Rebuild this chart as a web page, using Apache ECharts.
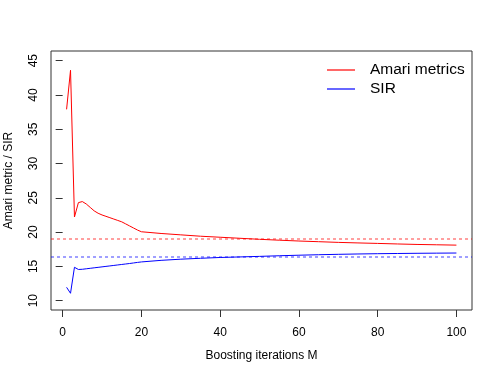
<!DOCTYPE html>
<html>
<head>
<meta charset="utf-8">
<script src="https://cdn.jsdelivr.net/npm/echarts@6/dist/echarts.min.js"></script>
<style>
  html, body { margin: 0; padding: 0; background: #fff; }
  #chart { width: 498px; height: 374px; }
</style>
</head>
<body>
<div id="chart"></div>
<script>
// boosting iterations (x) and metric values
const iterations = [1, 2, 3, 4, 5, 6, 7, 8, 9, 10, 11, 12, 13, 14, 15, 16, 17, 18, 19, 20,
  25, 30, 35, 40, 45, 50, 55, 60, 65, 70, 75, 80, 85, 90, 95, 100]
const amari = [37.9, 43.6, 22.2, 24.3, 24.45, 24.1, 23.6, 23.1, 22.75, 22.5, 22.3, 22.1, 21.9, 21.7, 21.5, 21.2, 20.9, 20.6, 20.3, 20.05,
  19.8, 19.6, 19.4, 19.25, 19.1, 18.95, 18.82, 18.7, 18.6, 18.5, 18.42, 18.35, 18.27, 18.2, 18.15, 18.1]
const sir = [11.95, 11.08, 14.87, 14.55, 14.58, 14.65, 14.72, 14.79, 14.86, 14.93, 15.0, 15.07, 15.14, 15.21, 15.28, 15.35, 15.42, 15.5, 15.58, 15.65,
  15.88, 16.05, 16.18, 16.3, 16.38, 16.46, 16.55, 16.63, 16.7, 16.76, 16.81, 16.85, 16.88, 16.91, 16.93, 16.95]
// reference levels (dotted horizontal lines)
const amariRef = 19.0
const sirRef = 16.42
const xTicks = [0, 20, 40, 60, 80, 100]
const yTicks = [10, 15, 20, 25, 30, 35, 40, 45]

const font = 'Liberation Sans, Arial, Helvetica, sans-serif'
const pair = (xs, ys) => xs.map((x, i) => [x, ys[i]])

const chart = echarts.init(document.getElementById('chart'))
chart.setOption({
  animation: false,
  grid: {
    left: 51,
    right: 26,
    top: 51,
    bottom: 64,
    containLabel: false,
    outerBoundsMode: 'none',
    show: true,
    borderColor: '#333',
    borderWidth: 1
  },
  legend: {
    orient: 'vertical',
    left: 327,
    top: 62,
    padding: 0,
    icon: 'rect',
    itemWidth: 28,
    itemHeight: 1.2,
    itemGap: 3,
    textStyle: { fontFamily: font, fontSize: 15.5, color: '#000', padding: [0, 0, 0, 10] },
    data: ['Amari metrics', 'SIR']
  },
  xAxis: {
    type: 'value',
    min: -2.96,
    max: 103.96,
    name: 'Boosting iterations M',
    nameLocation: 'middle',
    nameGap: 40,
    nameTextStyle: { fontFamily: font, fontSize: 12, color: '#000' },
    axisLine: { show: false },
    splitLine: { show: false },
    axisTick: { show: true, length: 7, lineStyle: { color: '#333' }, customValues: xTicks },
    axisLabel: { fontFamily: font, fontSize: 12, color: '#000', margin: 17, customValues: xTicks }
  },
  yAxis: {
    type: 'value',
    min: 8.64,
    max: 46.41,
    name: 'Amari metric / SIR',
    nameLocation: 'middle',
    nameGap: 36,
    nameRotate: 90,
    nameTextStyle: { fontFamily: font, fontSize: 12, color: '#000' },
    axisLine: { show: false },
    splitLine: { show: false },
    axisTick: { show: true, length: 7, lineStyle: { color: '#333' }, customValues: yTicks },
    axisLabel: { fontFamily: font, fontSize: 12, color: '#000', margin: 11, rotate: 90, customValues: yTicks }
  },
  series: [
    {
      name: 'Amari metrics',
      type: 'line',
      symbol: 'none',
      data: pair(iterations, amari),
      lineStyle: { color: '#ff0000', width: 1 },
      itemStyle: { color: '#ff0000' },
      markLine: {
        silent: true,
        symbol: 'none',
        label: { show: false },
        lineStyle: { color: 'rgba(255, 0, 0, 0.5)', width: 1.5, type: [3, 3] },
        data: [{ yAxis: amariRef }]
      }
    },
    {
      name: 'SIR',
      type: 'line',
      symbol: 'none',
      data: pair(iterations, sir),
      lineStyle: { color: '#0000ff', width: 1 },
      itemStyle: { color: '#0000ff' },
      markLine: {
        silent: true,
        symbol: 'none',
        label: { show: false },
        lineStyle: { color: 'rgba(0, 0, 255, 0.5)', width: 1.5, type: [3, 3] },
        data: [{ yAxis: sirRef }]
      }
    }
  ]
})
</script>
</body>
</html>
